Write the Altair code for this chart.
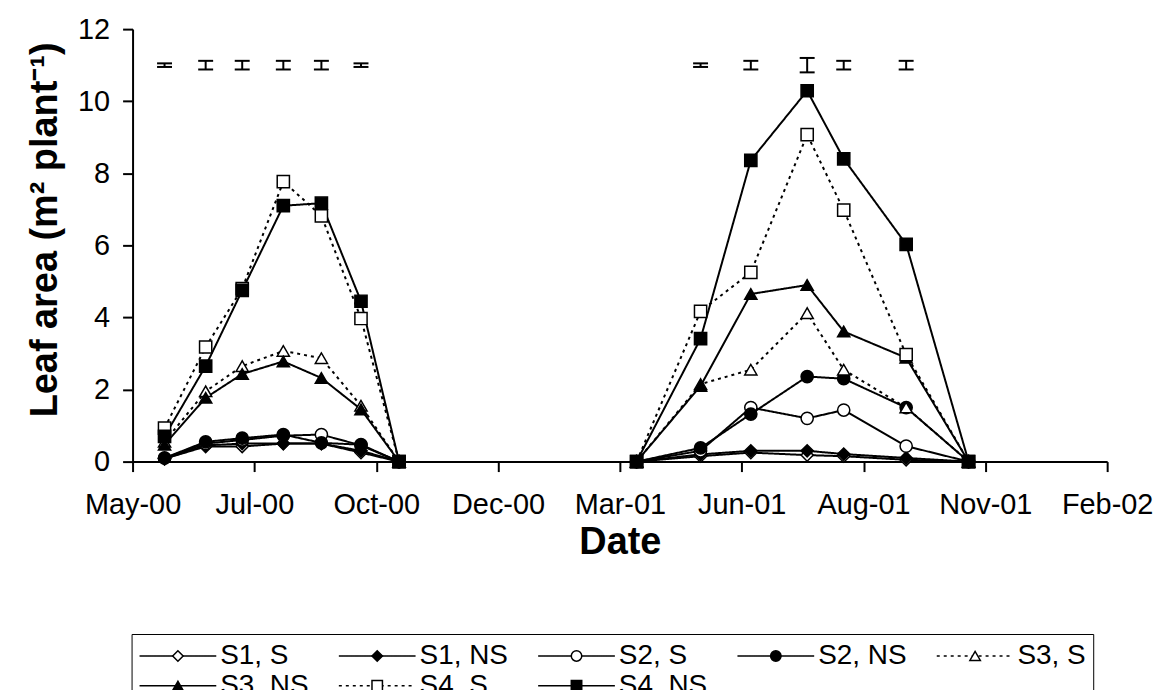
import altair as alt
import pandas as pd

# ---------------- data ----------------
series = ["S1, S", "S1, NS", "S2, S", "S2, NS", "S3, S", "S3, NS", "S4, S", "S4, NS"]

dates_2000 = ["2000-05-24", "2000-06-20", "2000-07-14", "2000-08-10",
              "2000-09-04", "2000-09-30", "2000-10-25"]
dates_2001 = ["2001-03-30", "2001-05-11", "2001-06-13", "2001-07-20",
              "2001-08-13", "2001-09-23", "2001-11-03"]

s1_s_2000 = [0.08, 0.42, 0.42, 0.50, 0.50, 0.25, 0.0]
s1_s_2001 = [0.0, 0.15, 0.25, 0.18, 0.15, 0.05, 0.0]
s1_ns_2000 = [0.08, 0.45, 0.50, 0.50, 0.50, 0.30, 0.0]
s1_ns_2001 = [0.0, 0.20, 0.30, 0.30, 0.21, 0.10, 0.0]
s2_s_2000 = [0.10, 0.50, 0.60, 0.72, 0.75, 0.45, 0.0]
s2_s_2001 = [0.0, 0.30, 1.50, 1.20, 1.43, 0.43, 0.0]
s2_ns_2000 = [0.10, 0.55, 0.65, 0.75, 0.52, 0.47, 0.0]
s2_ns_2001 = [0.0, 0.38, 1.32, 2.36, 2.30, 1.50, 0.0]
s3_s_2000 = [0.55, 1.95, 2.65, 3.07, 2.87, 1.55, 0.0]
s3_s_2001 = [0.0, 2.15, 2.55, 4.12, 2.55, 1.50, 0.0]
s3_ns_2000 = [0.47, 1.77, 2.43, 2.78, 2.32, 1.45, 0.0]
s3_ns_2001 = [0.0, 2.10, 4.65, 4.90, 3.61, 2.88, 0.0]
s4_s_2000 = [0.93, 3.18, 4.80, 7.77, 6.82, 3.97, 0.0]
s4_s_2001 = [0.0, 4.17, 5.25, 9.07, 6.98, 2.97, 0.0]
s4_ns_2000 = [0.70, 2.65, 4.75, 7.10, 7.17, 4.45, 0.0]
s4_ns_2001 = [0.0, 3.41, 8.36, 10.29, 8.40, 6.03, 0.0]

# error bars drawn at the top of the plot
err_dates = ["2000-05-24", "2000-06-20", "2000-07-14", "2000-08-10", "2000-09-04",
             "2000-09-30", "2001-05-11", "2001-06-13", "2001-07-20", "2001-08-13",
             "2001-09-23"]
err_mid = [11.0, 11.0, 11.0, 11.0, 11.0, 11.0, 11.0, 11.0, 11.0, 11.0, 11.0]
err_half = [0.05, 0.12, 0.12, 0.12, 0.12, 0.05, 0.05, 0.12, 0.20, 0.12, 0.12]

# axis tick labels
tick_dates = ["2000-05-03", "2000-07-22", "2000-10-10", "2000-12-29", "2001-03-19",
              "2001-06-07", "2001-08-26", "2001-11-14", "2002-02-02"]
y_ticks = [0, 2, 4, 6, 8, 10, 12]

# ---------------- styles ----------------
marker_shapes = ["diamond", "diamond", "circle", "circle",
                 "triangle-up", "triangle-up", "square", "square"]
marker_fills = ["white", "black", "white", "black", "white", "black", "white", "black"]
line_dash = [[1, 0], [1, 0], [1, 0], [1, 0], [3, 4], [1, 0], [3, 4], [1, 0]]

FONT = "Liberation Sans"
ZW = "\u200b"  # keeps the line legend's domain distinct from the marker legend's

# ---------------- tables ----------------
values_2000 = [s1_s_2000, s1_ns_2000, s2_s_2000, s2_ns_2000,
               s3_s_2000, s3_ns_2000, s4_s_2000, s4_ns_2000]
values_2001 = [s1_s_2001, s1_ns_2001, s2_s_2001, s2_ns_2001,
               s3_s_2001, s3_ns_2001, s4_s_2001, s4_ns_2001]
rows = []
for name, v0, v1 in zip(series, values_2000, values_2001):
    for d, v in zip(dates_2000, v0):
        rows.append({"series": name, "line_key": name + ZW, "date": d, "value": v,
                     "grp": name + " 2000"})
    for d, v in zip(dates_2001, v1):
        rows.append({"series": name, "line_key": name + ZW, "date": d, "value": v,
                     "grp": name + " 2001"})
df = pd.DataFrame(rows)
err_df = pd.DataFrame({"date": err_dates, "mid": err_mid, "half": err_half})


def dt(s):
    y, m, d = (int(p) for p in s.split("-"))
    return alt.DateTime(year=y, month=m, date=d, utc=True)


x_scale = alt.Scale(type="utc", domain=[dt(tick_dates[0]), dt(tick_dates[-1])], nice=False)
y_scale = alt.Scale(domain=[0, 12], nice=False, zero=True)
x_axis = alt.Axis(values=[dt(t) for t in tick_dates],
                  labelExpr="utcFormat(datum.value, '%b-%y')",
                  title="Date", labelFlush=False, labelOverlap=False,
                  labelPadding=19, titlePadding=4, tickSize=10)
y_axis = alt.Axis(values=y_ticks, title="Leaf area (m² plant⁻¹)",
                  labelPadding=13, titlePadding=13, tickSize=10, titleY=201)

X = alt.X("date:T", scale=x_scale, axis=x_axis)
Yv = alt.Y("value:Q", scale=y_scale, axis=y_axis)

common_leg = dict(title=None, orient="none", direction="horizontal", legendX=-1,
                  legendY=607, columns=5, gridAlign="all", rowPadding=0, clipHeight=30,
                  labelFont=FONT, labelFontSize=28, labelLimit=0, padding=7)

# legend A: the line samples, with the labels and the box
leg_lines = alt.Legend(symbolType="stroke", symbolSize=5929, symbolStrokeWidth=1.5,
                       symbolStrokeColor="black", labelOffset=3, labelColor="black",
                       columnPadding=29,
                       labelExpr="replace(datum.label, '" + ZW + "', '')",
                       strokeColor="black", fillColor="white", zindex=1, **common_leg)
# legend B: the markers only, laid over the middle of each line sample
leg_marks = alt.Legend(symbolSize=110, symbolStrokeWidth=1.5, symbolOffset=25.5,
                       labelOffset=0, columnPadding=146, labelColor="black",
                       labelExpr="'" + ZW + "'", zindex=2, **common_leg)

lines = alt.Chart(df).mark_line(stroke="black", strokeWidth=2).encode(
    x=X, y=Yv, detail="grp:N",
    strokeDash=alt.StrokeDash("line_key:N",
                              scale=alt.Scale(domain=[s + ZW for s in series], range=line_dash),
                              legend=leg_lines),
)

point_layers = []
for name, shp, fil in zip(series, marker_shapes, marker_fills):
    point_layers.append(
        alt.Chart(df).transform_filter(alt.datum.series == name).mark_point(
            shape=shp, fill=fil, filled=True, stroke="black", strokeWidth=1.5,
            opacity=1, size=150).encode(x=X, y=Yv)
    )

err_base = alt.Chart(err_df).transform_calculate(
    lo="datum.mid - datum.half", hi="datum.mid + datum.half")
err_rule = err_base.mark_rule(color="black", strokeWidth=2).encode(
    x=X, y=alt.Y("lo:Q", scale=y_scale, axis=y_axis), y2="hi:Q")
err_lo = err_base.mark_tick(color="black", orient="horizontal", size=15, thickness=2,
                            opacity=1).encode(
    x=X, y=alt.Y("lo:Q", scale=y_scale, axis=y_axis))
err_hi = err_base.mark_tick(color="black", orient="horizontal", size=15, thickness=2,
                            opacity=1).encode(
    x=X, y=alt.Y("hi:Q", scale=y_scale, axis=y_axis))

# legend-only layer for the markers: its points sit below the plot area and are clipped
legend_layer = alt.Chart(df).transform_calculate(off="-50").mark_point(
    filled=True, stroke="black", strokeWidth=1.5, opacity=1, size=110, clip=True).encode(
    x=X, y=alt.Y("off:Q", scale=y_scale, axis=y_axis),
    color=alt.Color("series:N", scale=alt.Scale(domain=series, range=marker_fills),
                    legend=leg_marks),
    shape=alt.Shape("series:N", scale=alt.Scale(domain=series, range=marker_shapes),
                    legend=leg_marks),
)

chart = alt.layer(lines, *point_layers, err_rule, err_lo, err_hi, legend_layer).properties(
    width=978, height=434,
    autosize=alt.AutoSizeParams(type="none"),
    padding={"left": 125, "top": 20, "right": 46, "bottom": 228},
    background="white",
).configure_axis(
    labelFont=FONT, labelFontSize=29, labelColor="black",
    titleFont=FONT, titleFontSize=38, titleFontWeight="bold", titleColor="black",
    domainColor="black", domainWidth=2, tickColor="black", tickWidth=2, grid=False,
).configure_view(strokeWidth=0)

chart.save("out.html", embed_options={"renderer": "svg", "actions": False})
